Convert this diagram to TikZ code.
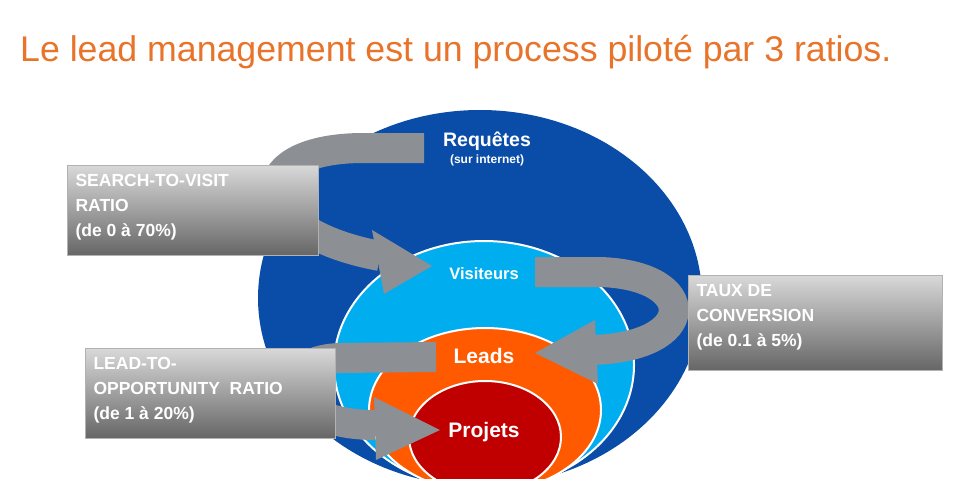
\documentclass[tikz,border=0pt]{standalone}
\usepackage{fontspec}
\setmainfont{Liberation Sans}
\usetikzlibrary{arrows.meta}
\definecolor{dblue}{HTML}{0A4DA8}
\definecolor{lblue}{HTML}{00AEEF}
\definecolor{orng}{HTML}{FF5A00}
\definecolor{rd}{HTML}{C00000}
\definecolor{ttl}{HTML}{E8732A}
\definecolor{arrg}{HTML}{8C8F94}
\tikzset{
  ring/.style={draw=white,line width=2pt},
  shaft/.style={draw=arrg,line width=30pt},
  rbox/.style={anchor=north west,inner sep=0pt,minimum width=#1,top color=gray!30,bottom color=gray!80!black,draw=gray!60},
  btxt/.style={anchor=north west,align=left,text=white,font=\bfseries\fontsize{17.5}{25}\selectfont},
  lab/.style={text=white,font=\bfseries}
}
\begin{document}
\begin{tikzpicture}[x=1pt,y=-1pt]
\useasboundingbox (0,0) rectangle (960,484);
\node[anchor=base west,text=ttl,font=\fontsize{35.7}{40}\selectfont,inner sep=0pt] (title) at (20,62) {Le lead management est un process piloté par 3 ratios.};
\begin{scope}
\clip (0,0) rectangle (960,478);
\fill[dblue] (480,298) ellipse [x radius=222,y radius=188];
\path[fill=lblue,ring] (484,365) ellipse [x radius=150,y radius=124];
\path[fill=orng,ring] (485,410) ellipse [x radius=116,y radius=82];
\path[fill=rd,ring] (485,437) ellipse [x radius=76,y radius=56];
\end{scope}
\node[lab,font=\bfseries\fontsize{19.5}{20}\selectfont] (req) at (487,141) {Requêtes};
\node[lab,font=\bfseries\fontsize{12}{13}\selectfont] (sur) at (487,160) {(sur internet)};
\node[lab,font=\bfseries\fontsize{16.5}{18}\selectfont] (vis) at (484,274) {Visiteurs};
\node[lab,font=\bfseries\fontsize{21}{22}\selectfont] (lea) at (484,356) {Leads};
\node[lab,font=\bfseries\fontsize{21}{22}\selectfont] (pro) at (484,432) {Projets};
\coordinate (a1) at (424,148);
\coordinate (a2) at (535,272);
\coordinate (a3) at (436,357);
\draw[shaft] (a1) -- (360,148) .. controls (240,150) and (250,232) .. (380,256);
\fill[arrg] (372,230) -- (432,266) -- (384,294) -- cycle;
\draw[shaft] (a2) -- (600,272) .. controls (700,275) and (700,348) .. (590,350);
\fill[arrg] (595,320) -- (535,353) -- (598,384) -- cycle;
\draw[shaft] (a3) -- (340,358) .. controls (270,360) and (280,425) .. (375,425);
\fill[arrg] (374,397) -- (440,430) -- (376,460) -- cycle;
\node[rbox=251pt,minimum height=90pt] (b1) at (67,165) {};
\node[btxt] (t1) at (72,171) {SEARCH-TO-VISIT\\RATIO\\(de 0 à 70\%)};
\node[rbox=254pt,minimum height=95pt] (b2) at (688,275) {};
\node[btxt] (t2) at (693,281) {TAUX DE\\CONVERSION\\(de 0.1 à 5\%)};
\node[rbox=250pt,minimum height=90pt] (b3) at (85,348) {};
\node[btxt] (t3) at (90,354) {LEAD-TO-\\OPPORTUNITY~ RATIO\\(de 1 à 20\%)};
\end{tikzpicture}
\end{document}
